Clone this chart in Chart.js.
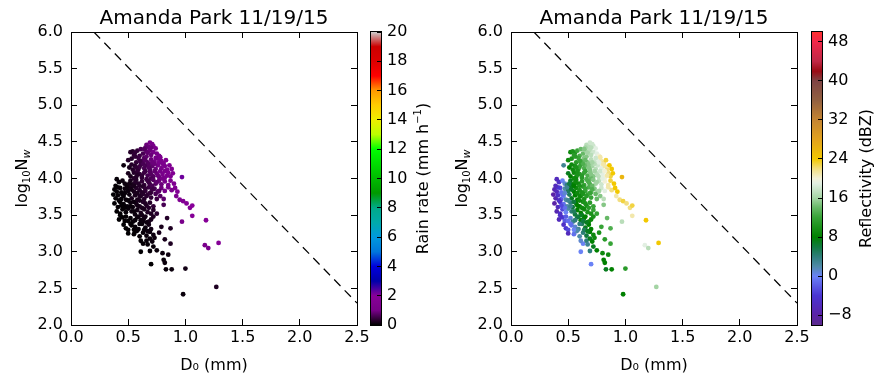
<html>
<head>
<script src="https://cdn.jsdelivr.net/npm/chart.js@4.4.0/dist/chart.umd.min.js"></script>
<style>
  body { margin: 0; width: 886px; height: 386px; background: #fff; position: relative; overflow: hidden; }
  canvas { position: absolute; top: 0; }
</style>
</head>
<body>
<canvas id="rainChart" width="370" height="386" style="left:0px"></canvas>
<canvas id="rainBar" width="75" height="386" style="left:366px"></canvas>
<canvas id="dbzChart" width="370" height="386" style="left:440px"></canvas>
<canvas id="dbzBar" width="75" height="386" style="left:807px"></canvas>

<script>
// ---- data (one entry per drop-size-distribution sample) ----
const d0 = [
  0.66,0.69,0.71,0.68,0.72,0.65,0.74,
  0.52,0.54,0.56,0.55,0.60,0.63,0.66,0.69,0.72,0.75,0.77,0.58,0.61,0.70,
  0.50,0.53,0.57,0.59,0.62,0.64,0.67,0.70,0.73,0.76,0.79,0.81,0.78,0.83,0.56,0.66,
  0.46,0.51,0.54,0.56,0.59,0.61,0.64,0.66,0.69,0.71,0.74,0.76,0.79,0.82,0.84,0.86,0.88,0.53,0.68,0.73,
  0.50,0.52,0.55,0.57,0.60,0.62,0.64,0.67,0.69,0.72,0.75,0.77,0.80,0.82,0.85,0.87,0.89,0.97,0.58,0.70,
  0.40,0.42,0.45,0.47,0.49,0.52,0.54,0.57,0.59,0.62,0.64,0.67,0.69,0.72,0.74,0.77,0.79,0.82,0.85,0.87,0.90,0.56,0.66,
  0.38,0.40,0.43,0.44,0.47,0.50,0.52,0.55,0.57,0.60,0.63,0.65,0.68,0.70,0.73,0.76,0.79,0.82,0.85,0.88,0.91,0.93,0.62,
  0.37,0.39,0.41,0.44,0.46,0.48,0.51,0.53,0.56,0.58,0.61,0.64,0.67,0.70,0.78,0.81,0.92,0.95,0.98,0.75,
  0.38,0.41,0.43,0.46,0.49,0.52,0.54,0.57,0.60,0.63,0.66,0.69,0.72,0.81,1.01,1.04,1.06,
  0.40,0.43,0.45,0.48,0.50,0.53,0.56,0.58,0.61,0.64,0.67,0.72,0.75,1.06,
  0.42,0.45,0.47,0.52,0.54,0.58,0.61,0.64,0.68,0.84,0.97,1.18,
  0.46,0.48,0.50,0.53,0.56,0.59,0.62,0.65,0.68,0.79,0.87,0.70,
  0.50,0.55,0.57,0.60,0.63,0.66,0.69,0.72,0.77,
  0.63,0.66,0.69,0.71,0.73,0.82,0.87,1.17,1.29,
  0.61,0.69,0.75,1.20,0.72,
  0.80,0.85,0.70,0.81,0.82,0.83,0.88,1.00,1.27,0.98,
  0.63,0.65,0.68,0.71,0.74,0.60,0.62,0.65,0.70,0.73,0.76,0.78,0.80,0.75,0.71,0.68,0.65,0.60,0.58,0.55,0.82,0.84,0.80,0.77,0.67,0.64,0.70,0.60,0.57,0.71,0.74,0.77,
  0.50,0.52,0.55,0.58,0.60,0.62,0.65,0.55,0.59,0.62,0.65,0.56,0.60,0.63,0.66,0.58,0.64,0.67,0.70,0.72,0.70,0.68,0.47,0.44,0.42,0.45,0.47,0.49,0.51,0.53,0.55,0.58,0.60,0.63,0.66,0.69,0.41,0.39,0.43,0.48,0.50,0.52,0.55,0.61,0.67
];
const logNw = [
  4.46,4.49,4.47,4.43,4.44,4.42,4.41,
  4.36,4.37,4.35,4.32,4.31,4.34,4.37,4.38,4.36,4.34,4.31,4.38,4.40,4.32,
  4.25,4.27,4.22,4.28,4.24,4.28,4.22,4.26,4.23,4.27,4.24,4.21,4.29,4.25,4.30,4.30,
  4.18,4.15,4.12,4.17,4.13,4.19,4.14,4.18,4.12,4.17,4.13,4.18,4.14,4.17,4.12,4.18,4.13,4.19,4.20,4.20,
  4.07,4.03,4.08,4.02,4.06,4.01,4.08,4.04,4.09,4.03,4.07,4.02,4.06,4.01,4.08,4.03,4.07,4.02,4.10,4.00,
  3.99,3.95,3.97,3.93,3.91,3.97,3.92,3.98,3.93,3.96,3.91,3.97,3.92,3.98,3.93,3.97,3.92,3.96,3.91,3.97,3.93,3.94,3.99,
  3.85,3.82,3.87,3.81,3.86,3.83,3.88,3.82,3.87,3.84,3.89,3.83,3.88,3.81,3.86,3.82,3.87,3.83,3.88,3.84,3.87,3.82,3.81,
  3.78,3.73,3.77,3.72,3.76,3.71,3.78,3.73,3.77,3.71,3.76,3.72,3.78,3.74,3.76,3.72,3.76,3.71,3.69,3.72,
  3.66,3.61,3.68,3.65,3.62,3.67,3.61,3.66,3.62,3.68,3.63,3.67,3.62,3.64,3.66,3.60,3.63,
  3.55,3.52,3.58,3.54,3.59,3.55,3.51,3.57,3.53,3.58,3.54,3.57,3.52,3.49,
  3.44,3.47,3.42,3.46,3.41,3.47,3.43,3.46,3.41,3.46,3.41,3.43,
  3.37,3.32,3.30,3.36,3.34,3.31,3.38,3.33,3.37,3.34,3.32,3.31,
  3.25,3.24,3.28,3.21,3.26,3.22,3.27,3.23,3.26,
  3.11,3.15,3.18,3.14,3.19,3.17,3.11,3.09,3.12,
  3.00,3.01,3.02,3.05,3.07,
  2.98,2.96,2.83,2.89,2.85,2.76,2.76,2.77,2.52,2.42,
  4.20,4.25,4.15,4.22,4.28,4.16,4.04,4.10,4.06,4.10,4.04,4.10,4.00,3.95,3.90,3.95,3.86,3.90,4.05,4.00,4.10,4.04,4.20,4.22,4.35,4.40,4.42,4.24,4.15,3.85,3.79,3.83,
  3.70,3.62,3.68,3.63,3.70,3.60,3.66,3.55,3.48,3.50,3.48,3.43,3.38,3.42,3.40,3.29,3.30,3.28,3.44,3.48,3.52,3.60,3.60,3.63,3.70,3.78,3.80,3.88,3.93,3.85,3.90,3.80,3.76,3.79,3.76,3.80,3.88,3.90,3.50,3.48,3.42,3.38,3.30,3.15,3.10
];
// rain rate, mm/h (left panel colour)
const rainRate = [
  0.9,1.0,1.1,0.9,1.1,0.8,1.1,
  0.3,0.3,0.4,0.4,0.5,0.6,0.8,0.9,1.0,1.1,1.2,0.4,0.6,0.9,
  0.3,0.3,0.4,0.5,0.6,0.7,0.7,0.9,1.0,1.2,1.3,1.4,1.3,1.5,0.4,0.8,
  0.1,0.2,0.3,0.3,0.4,0.5,0.6,0.6,0.7,0.8,0.9,1.0,1.1,1.3,1.4,1.6,1.6,0.3,0.7,0.9,
  0.2,0.2,0.3,0.3,0.4,0.4,0.5,0.6,0.7,0.7,0.9,0.9,1.1,1.2,1.4,1.5,1.6,2.2,0.4,0.6,
  0.05,0.05,0.1,0.1,0.1,0.2,0.2,0.3,0.3,0.4,0.4,0.5,0.6,0.7,0.7,0.9,0.9,1.1,1.2,1.4,1.5,0.3,0.5,
  0.03,0.04,0.06,0.06,0.1,0.1,0.2,0.2,0.3,0.3,0.3,0.4,0.5,0.5,0.6,0.7,0.9,1.0,1.2,1.3,1.5,1.6,0.3,
  0.02,0.03,0.04,0.05,0.07,0.08,0.1,0.2,0.2,0.2,0.3,0.3,0.4,0.4,0.7,0.8,1.4,1.5,1.7,0.5,
  0.02,0.03,0.04,0.05,0.07,0.1,0.1,0.2,0.2,0.3,0.3,0.3,0.4,0.6,1.8,1.9,2.0,
  0.02,0.03,0.04,0.05,0.07,0.1,0.1,0.15,0.2,0.2,0.25,0.3,0.35,1.8,
  0.02,0.03,0.03,0.05,0.06,0.1,0.1,0.15,0.2,0.3,1.1,1.9,
  0.02,0.02,0.03,0.04,0.05,0.06,0.08,0.1,0.15,0.2,0.25,0.15,
  0.02,0.03,0.04,0.04,0.06,0.08,0.1,0.12,0.2,
  0.04,0.06,0.08,0.1,0.12,0.2,0.25,1.2,1.8,
  0.02,0.05,0.08,1.2,0.07,
  0.1,0.12,0.02,0.08,0.08,0.07,0.09,0.15,0.25,0.08,
  0.6,0.7,0.7,0.9,1.0,0.5,0.4,0.5,0.7,0.8,0.9,1.0,1.0,0.8,0.6,0.5,0.4,0.3,0.3,0.3,1.2,1.3,1.3,1.2,0.8,0.7,0.9,0.5,0.4,0.5,0.6,0.7,
  0.06,0.06,0.1,0.15,0.2,0.2,0.25,0.08,0.1,0.15,0.15,0.06,0.07,0.1,0.12,0.05,0.07,0.1,0.2,0.25,0.25,0.3,0.04,0.03,0.03,0.05,0.07,0.1,0.15,0.15,0.2,0.2,0.25,0.3,0.35,0.4,0.04,0.03,0.02,0.03,0.03,0.03,0.03,0.03,0.05
];
// reflectivity, dBZ (right panel colour)
const reflectivity = [
  17,18,18,17,18,16,19,
  9,10,10,11,13,14,16,17,18,19,20,12,14,17,
  9,10,11,12,13,15,15,17,18,19,21,22,21,23,11,15,
  3,8,9,10,11,12,13,14,15,16,17,18,19,21,22,24,24,9,15,17,
  7,8,9,9,11,11,12,13,15,15,17,17,19,20,22,23,24,26,10,14,
  -6,-5,0,1,4,7,8,9,9,11,12,13,13,15,16,17,18,20,21,23,24,9,13,
  -7,-6,-3,-1,2,5,7,8,9,10,11,12,13,13,15,16,18,19,21,22,24,24,10,
  -8,-7,-5,-2,0,2,5,7,8,8,10,10,12,12,15,17,21,22,23,14,
  -8,-6,-4,-1,2,4,6,8,8,10,10,11,12,15,22,22,23,
  -7,-5,-3,0,2,4,6,8,8,9,10,12,12,21,
  -6,-4,-2,1,3,6,8,8,9,14,17,24,
  -5,-4,-3,-1,1,3,5,7,8,12,13,8,
  -6,-1,1,2,4,6,8,9,10,
  0,4,7,8,9,11,12,19,24,
  0,4,8,17,7,
  9,9,0,8,8,7,8,11,16,8,
  13,14,15,16,18,12,11,12,15,16,17,18,19,16,14,13,12,10,10,9,20,21,21,19,16,15,17,12,10,13,14,16,
  3,3,6,8,9,9,10,5,6,7,8,4,4,6,7,2,5,7,9,10,10,11,-1,-3,-5,-1,1,3,6,7,8,9,9,10,11,12,-4,-6,-5,-2,-1,-1,0,1,3
];
// dashed reference line
const lineD0 = [0.2, 2.5];
const lineLogNw = [6.0, 2.3];

const xTicks = [0, 0.5, 1.0, 1.5, 2.0, 2.5];
const yTicks = [2.0, 2.5, 3.0, 3.5, 4.0, 4.5, 5.0, 5.5, 6.0];
const rainTicks = [0, 2, 4, 6, 8, 10, 12, 14, 16, 18, 20];
const dbzTicks = [-8, 0, 8, 16, 24, 32, 40, 48];
const titleText = 'Amanda Park 11/19/15';

// ---- colour maps ----
function hexRgb(h) { return [1, 3, 5].map(i => parseInt(h.slice(i, i + 2), 16)); }
function makeCmap(stops) {
  const s = stops.map(([v, h]) => [v, hexRgb(h)]);
  return function (v) {
    let c = s[s.length - 1][1];
    if (v <= s[0][0]) c = s[0][1];
    else for (let i = 1; i < s.length; i++) {
      if (v <= s[i][0]) {
        const t = (v - s[i - 1][0]) / (s[i][0] - s[i - 1][0]);
        c = s[i][1].map((b, k) => Math.round(s[i - 1][1][k] + (b - s[i - 1][1][k]) * t));
        break;
      }
    }
    return 'rgb(' + c.join(',') + ')';
  };
}
// nipy_spectral over 0..20 mm/h
const rainCmap = makeCmap([
  [0,'#000000'],[1,'#770088'],[2,'#880099'],[3,'#0000aa'],[4,'#0000dd'],[5,'#0077dd'],[6,'#0099dd'],
  [7,'#00aaaa'],[8,'#00aa88'],[9,'#009900'],[10,'#00bb00'],[11,'#00dd00'],[12,'#00ff00'],[13,'#bbff00'],
  [14,'#eeee00'],[15,'#ffcc00'],[16,'#ff9900'],[17,'#ff0000'],[18,'#dd0000'],[19,'#cc0000'],[20,'#cccccc']
]);
const dbzCmap = makeCmap([
  [-10,'#5a2a8c'],[-8,'#5a22a6'],[-4,'#4a34d2'],[0,'#6a82f6'],[2,'#4f8aa8'],[4,'#2e7e7a'],[6,'#117a40'],
  [8,'#008000'],[12,'#36a336'],[14,'#66b866'],[16,'#a4d4a4'],[19,'#e2efe2'],[20,'#f2f0d6'],[22,'#f2de80'],
  [24,'#f2c800'],[28,'#e2a21e'],[32,'#c48432'],[36,'#926040'],[40,'#7e4444'],[42,'#9a0a14'],[44,'#c02846'],
  [48,'#f0284a'],[50,'#ff3030']
]);

Chart.defaults.font.family = "'DejaVu Sans', sans-serif";
Chart.defaults.font.size = 16;
Chart.defaults.color = '#000';

// rotated label with sub/superscript runs
const richLabel = {
  id: 'richLabel',
  afterDraw(chart, args, opts) {
    const ctx = chart.ctx, a = chart.chartArea;
    const x = opts.side === 'left' ? a.left + opts.offset : a.right + opts.offset;
    const y = (a.top + a.bottom) / 2;
    ctx.save();
    ctx.translate(x, y);
    ctx.rotate(-Math.PI / 2);
    ctx.fillStyle = '#000';
    ctx.textBaseline = 'alphabetic';
    ctx.textAlign = 'left';
    let w = 0;
    opts.runs.forEach(r => { ctx.font = r.font; w += ctx.measureText(r.text).width; });
    let px = -w / 2;
    opts.runs.forEach(r => {
      ctx.font = r.font;
      ctx.fillText(r.text, px, 5.8 + (r.dy || 0));
      px += ctx.measureText(r.text).width;
    });
    ctx.restore();
  }
};

const colorBarFill = {
  id: 'colorBarFill',
  beforeDraw(chart, args, opts) {
    const ctx = chart.ctx, a = chart.chartArea, s = chart.scales.y;
    const g = ctx.createLinearGradient(0, s.getPixelForValue(s.min), 0, s.getPixelForValue(s.max));
    const n = 200;
    for (let k = 0; k <= n; k++) {
      g.addColorStop(k / n, opts.cmap(s.min + (s.max - s.min) * k / n));
    }
    ctx.save();
    ctx.fillStyle = g;
    ctx.fillRect(a.left, a.top, a.right - a.left, a.bottom - a.top);
    ctx.restore();
  },
  afterDraw(chart) {
    const ctx = chart.ctx, a = chart.chartArea;
    ctx.save();
    ctx.strokeStyle = '#000';
    ctx.lineWidth = 1;
    ctx.strokeRect(a.left - 0.5, a.top - 0.5, a.right - a.left + 1, a.bottom - a.top + 1);
    ctx.restore();
  }
};

function fixTicks(values) { return scale => { scale.ticks = values.map(v => ({ value: v })); }; }
const inGrid = { drawOnChartArea: false, tickLength: -6, color: '#000', lineWidth: 1 };
const blackBorder = { color: '#000', width: 1 };

function scatterPanel(id, colours) {
  return new Chart(document.getElementById(id), {
    type: 'scatter',
    data: {
      datasets: [
        {
          data: d0.map((x, i) => ({ x: x, y: logNw[i] })),
          pointRadius: 2.4,
          pointBorderWidth: 0,
          pointBackgroundColor: colours,
          pointBorderColor: colours
        },
        {
          type: 'line',
          data: lineD0.map((x, i) => ({ x: x, y: lineLogNw[i] })),
          borderColor: '#000',
          borderWidth: 1.2,
          borderDash: [9, 6],
          pointRadius: 0,
          fill: false
        }
      ]
    },
    options: {
      responsive: false,
      animation: false,
      devicePixelRatio: 1,
      events: [],
      layout: { padding: { left: 0, right: 13, top: 0, bottom: 0 } },
      scales: {
        x: {
          type: 'linear', position: 'bottom', min: 0, max: 2.5,
          afterBuildTicks: fixTicks(xTicks),
          afterFit: s => { s.height = 61; s.paddingLeft = 0; s.paddingRight = 0; },
          grid: inGrid, border: blackBorder,
          ticks: { padding: 9.5, maxRotation: 0, autoSkip: false, callback: v => v.toFixed(1) },
          title: { display: true, text: 'D₀ (mm)', padding: { top: 0, bottom: 11 } }
        },
        x2: {
          type: 'linear', position: 'top', min: 0, max: 2.5,
          afterBuildTicks: fixTicks(xTicks),
          afterFit: s => { s.height = 0; s.paddingLeft = 0; s.paddingRight = 0; },
          grid: inGrid, border: blackBorder,
          ticks: { display: false }
        },
        y: {
          type: 'linear', position: 'left', min: 2, max: 6,
          afterBuildTicks: fixTicks(yTicks),
          afterFit: s => { s.width = 71; },
          grid: inGrid, border: blackBorder,
          ticks: { padding: 14, autoSkip: false, callback: v => v.toFixed(1) }
        },
        y2: {
          type: 'linear', position: 'right', min: 2, max: 6,
          afterBuildTicks: fixTicks(yTicks),
          afterFit: s => { s.width = 0; },
          grid: inGrid, border: blackBorder,
          ticks: { display: false }
        }
      },
      plugins: {
        legend: { display: false },
        tooltip: { enabled: false },
        title: {
          display: true, text: titleText, fullSize: false,
          font: { size: 20, weight: 'normal' }, color: '#000',
          padding: { top: 6.3, bottom: 1.7 }
        },
        richLabel: {
          side: 'left', offset: -50,
          runs: [
            { text: 'log', font: "16px 'DejaVu Sans'" },
            { text: '10', font: "10px 'DejaVu Sans'", dy: 3 },
            { text: 'N', font: "16px 'DejaVu Sans'" },
            { text: 'w', font: "italic 11px 'DejaVu Sans'", dy: 3 }
          ]
        }
      }
    },
    plugins: [richLabel]
  });
}

function colorBar(id, cmap, min, max, ticks, runs, offset) {
  return new Chart(document.getElementById(id), {
    type: 'scatter',
    data: { datasets: [] },
    options: {
      responsive: false,
      animation: false,
      devicePixelRatio: 1,
      events: [],
      layout: { padding: { left: 5, right: 0, top: 32, bottom: 61 } },
      scales: {
        x: { display: false },
        y: {
          type: 'linear', position: 'right', min: min, max: max,
          afterBuildTicks: fixTicks(ticks),
          afterFit: s => { s.width = 60; },
          grid: { drawOnChartArea: false, tickLength: -4, color: '#000', lineWidth: 1 },
          border: { display: false },
          ticks: { padding: 10, autoSkip: false, callback: v => String(v).replace('-', '\u2212') }
        }
      },
      plugins: {
        legend: { display: false },
        tooltip: { enabled: false },
        colorBarFill: { cmap: cmap },
        richLabel: { side: 'right', offset: offset, runs: runs }
      }
    },
    plugins: [colorBarFill, richLabel]
  });
}

scatterPanel('rainChart', rainRate.map(r => rainCmap(r)));
scatterPanel('dbzChart', reflectivity.map(z => dbzCmap(z)));

colorBar('rainBar', rainCmap, 0, 20, rainTicks, [
  { text: 'Rain rate (mm h', font: "16px 'DejaVu Sans'" },
  { text: '\u22121', font: "10px 'DejaVu Sans'", dy: -7 },
  { text: ')', font: "16px 'DejaVu Sans'" }
], 41);
colorBar('dbzBar', dbzCmap, -10, 50, dbzTicks, [
  { text: 'Reflectivity (dBZ)', font: "16px 'DejaVu Sans'" }
], 43);
</script>
</body>
</html>
